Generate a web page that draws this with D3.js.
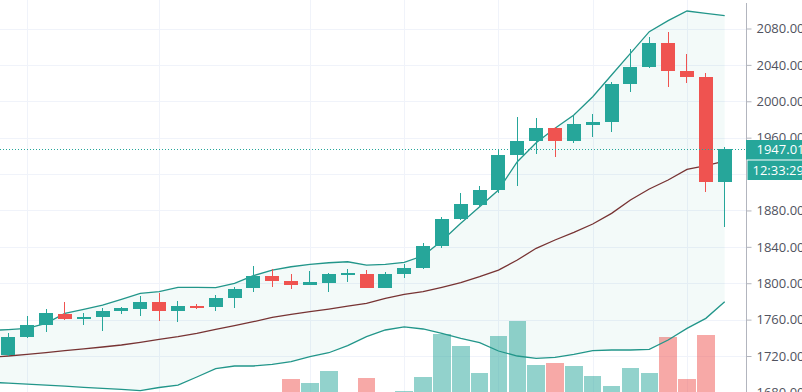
<!DOCTYPE html>
<html>
<head>
<meta charset="utf-8">
<script src="https://cdn.jsdelivr.net/npm/d3@7"></script>
<style>
html,body{margin:0;padding:0;background:#ffffff;overflow:hidden;}
svg{display:block;}
</style>
</head>
<body>
<svg id="chart" width="802" height="392"></svg>
<script>
// ---- Data (XAUUSD daily) ----
const dates = [
  "2020-06-18","2020-06-19","2020-06-22","2020-06-23","2020-06-24","2020-06-25","2020-06-26",
  "2020-06-29","2020-06-30","2020-07-01","2020-07-02","2020-07-03",
  "2020-07-06","2020-07-07","2020-07-08","2020-07-09","2020-07-10",
  "2020-07-13","2020-07-14","2020-07-15","2020-07-16","2020-07-17",
  "2020-07-20","2020-07-21","2020-07-22","2020-07-23","2020-07-24",
  "2020-07-27","2020-07-28","2020-07-29","2020-07-30","2020-07-31",
  "2020-08-03","2020-08-04","2020-08-05","2020-08-06","2020-08-07",
  "2020-08-10","2020-08-11","2020-08-12"
];
const opens = [
  1726.0,1720.7,1740.9,1754.1,1766.1,1760.3,1763.2,
  1769.4,1772.0,1779.7,1769.8,1774.9,
  1774.2,1783.4,1794.4,1808.3,1802.8,
  1798.4,1799.9,1810.4,1809.8,1795.1,
  1810.1,1816.4,1840.9,1870.9,1886.3,
  1902.1,1940.9,1956.3,1970.6,1956.3,
  1973.9,1976.9,2019.0,2038.0,2063.7,
  2033.3,2026.4,1910.9
];
const highs = [
  1732.0,1744.9,1763.9,1771.3,1779.0,1767.6,1772.4,
  1774.2,1785.9,1788.9,1780.1,1777.1,
  1787.0,1796.2,1818.9,1815.3,1810.1,
  1813.8,1811.5,1815.3,1814.5,1812.3,
  1821.1,1844.5,1873.1,1898.8,1907.2,
  1946.4,1983.0,1981.3,1971.5,1983.8,
  1985.7,2021.5,2057.1,2071.0,2076.5,
  2052.0,2030.8,1950.1
];
const lows = [
  1712.0,1720.0,1740.0,1746.7,1760.0,1754.1,1747.5,
  1766.1,1764.3,1758.8,1757.0,1772.0,
  1769.4,1772.7,1790.7,1795.5,1793.3,
  1798.0,1790.3,1801.7,1794.8,1794.8,
  1805.4,1815.8,1839.0,1869.5,1884.9,
  1898.8,1906.9,1941.7,1939.1,1954.5,
  1960.4,1965.9,2009.9,2036.2,2015.4,
  2019.8,1900.6,1862.1
];
const closes = [
  1722.0,1740.5,1754.1,1766.9,1760.3,1763.2,1769.8,
  1772.4,1779.7,1769.8,1774.9,1773.1,
  1783.4,1794.0,1808.3,1802.4,1798.4,
  1801.0,1809.8,1810.9,1795.1,1810.5,
  1816.4,1841.2,1870.9,1886.7,1902.5,
  1940.9,1956.7,1970.6,1956.3,1974.7,
  1976.9,2019.0,2038.0,2063.7,2033.0,
  2026.4,1910.9,1947.01
];
const volumes = [
  20,22,20,21,25,19,23,
  18,21,26,22,12,
  20,24,27,25,40.7,
  37.3,49.3,26,42,27,
  29.3,43.3,86,74,46.7,
  84,99,55,56.7,54,
  43.7,33.7,51.7,47.3,83.3,
  40.7,85,15
];
const bbUpper = [
  1748.0,1749.1,1750.4,1755.9,1766.9,1771.3,1776.0,
  1782.3,1788.9,1790.7,1795.5,1795.5,
  1795.1,1799.9,1808.3,1814.5,1818.1,
  1820.8,1822.5,1823.6,1820.0,1820.8,
  1823.0,1830.2,1846.7,1865.9,1884.1,
  1902.5,1933.6,1954.5,1970.3,1984.9,
  2005.0,2028.9,2052.7,2076.5,2088.6,
  2099.2,2096.7,2094.1
];
const bbBasis = [
  1718.5,1720.0,1721.8,1723.8,1726.0,1727.9,1729.9,
  1732.1,1735.0,1738.3,1741.2,1744.9,
  1749.3,1753.3,1757.7,1762.5,1765.8,
  1768.7,1771.6,1774.9,1777.9,1783.4,
  1787.8,1790.7,1795.5,1800.6,1807.2,
  1814.5,1825.5,1838.4,1847.5,1856.0,
  1865.1,1876.8,1891.5,1903.6,1913.5,
  1925.2,1929.2,1934.3
];
const bbLower = [
  1691.0,1690.3,1689.2,1688.1,1687.0,1685.6,1684.5,
  1683.4,1682.0,1685.4,1688.1,1696.9,
  1706.2,1709.0,1709.0,1710.9,1713.9,
  1719.2,1723.6,1731.5,1741.4,1748.6,
  1752.1,1749.7,1744.9,1739.4,1734.6,
  1725.5,1720.0,1717.5,1718.6,1721.8,
  1726.0,1726.6,1726.6,1727.3,1737.6,
  1750.4,1761.4,1779.7
];
const priceTicks = [1680,1720,1760,1800,1840,1880,1920,1960,2000,2040,2080];
// 1920 label is hidden behind the countdown box in the reference
const labelTicks = [1680,1720,1760,1800,1840,1880,1960,2000,2040,2080];
const gridDates = ["2020-06-22","2020-07-01","2020-07-13","2020-07-20","2020-07-27","2020-08-03","2020-08-10"];
const lastPrice = 1947.01;
const countdown = "12:33:29";

// ---- Styling ----
const UP = "#26a69a", DOWN = "#ef5350";
const W = 802, H = 392, plotRight = 746;

const svg = d3.select("#chart");
svg.append("rect").attr("width", W).attr("height", H).attr("fill", "#ffffff");

const x = d3.scalePoint().domain(dates).range([-10.55, 724.7]);
const y = d3.scaleLinear().domain([1680, 2080]).range([392.4, 28.5]);
const v = d3.scaleLinear().domain([0, 100]).range([420, 320]);

const data = dates.map((d, i) => ({
  d, o: opens[i], h: highs[i], l: lows[i], c: closes[i],
  up: bbUpper[i], mid: bbBasis[i], lo: bbLower[i], vol: volumes[i]
}));

svg.append("defs").append("clipPath").attr("id", "plotclip")
  .append("rect").attr("x", 0).attr("y", 0).attr("width", plotRight).attr("height", H);

const plot = svg.append("g").attr("clip-path", "url(#plotclip)");

// grid
const grid = plot.append("g").attr("stroke", "#f0f3fa").attr("stroke-width", 1).attr("shape-rendering", "crispEdges");
grid.selectAll("line.h").data(priceTicks).join("line").attr("class", "h")
  .attr("x1", 0).attr("x2", plotRight)
  .attr("y1", d => Math.round(y(d)) + 0.5).attr("y2", d => Math.round(y(d)) + 0.5);
grid.selectAll("line.v").data(gridDates).join("line").attr("class", "v")
  .attr("x1", d => Math.round(x(d)) + 0.5).attr("x2", d => Math.round(x(d)) + 0.5)
  .attr("y1", 0).attr("y2", H);

// volume
plot.append("g").attr("shape-rendering", "crispEdges").selectAll("rect").data(data).join("rect")
  .attr("x", d => x(d.d) - 8.75)
  .attr("width", 17.5)
  .attr("y", d => v(d.vol))
  .attr("height", d => v(0) - v(d.vol))
  .attr("fill", d => d.c >= d.o ? UP : DOWN)
  .attr("fill-opacity", 0.5);

// Bollinger fill + lines
plot.append("path").datum(data)
  .attr("d", d3.area().x(d => x(d.d)).y0(d => y(d.lo)).y1(d => y(d.up)))
  .attr("fill", "#26a69a").attr("fill-opacity", 0.055);
const line = key => d3.line().x(d => x(d.d)).y(d => y(d[key]));
plot.append("path").datum(data).attr("d", line("up"))
  .attr("fill", "none").attr("stroke", "#22968a").attr("stroke-width", 1.3);
plot.append("path").datum(data).attr("d", line("lo"))
  .attr("fill", "none").attr("stroke", "#22968a").attr("stroke-width", 1.3);
plot.append("path").datum(data).attr("d", line("mid"))
  .attr("fill", "none").attr("stroke", "#773333").attr("stroke-width", 1.3);

// candles
const cg = plot.append("g").attr("shape-rendering", "crispEdges");
const candles = cg.selectAll("g").data(data).join("g")
  .attr("fill", d => d.c >= d.o ? UP : DOWN);
candles.append("rect")
  .attr("x", d => Math.round(x(d.d) - 0.5))
  .attr("width", 1)
  .attr("y", d => y(d.h))
  .attr("height", d => y(d.l) - y(d.h));
candles.append("rect")
  .attr("x", d => Math.round(x(d.d) - 7))
  .attr("width", 14)
  .attr("y", d => Math.min(y(d.o), y(d.c)))
  .attr("height", d => Math.max(1.5, Math.abs(y(d.o) - y(d.c))));

// last price dotted line
plot.append("line")
  .attr("x1", 0).attr("x2", plotRight)
  .attr("y1", Math.round(y(lastPrice)) + 0.5).attr("y2", Math.round(y(lastPrice)) + 0.5)
  .attr("stroke", UP).attr("stroke-width", 1).attr("stroke-dasharray", "1,2");

// right price axis
svg.append("line").attr("x1", 746.5).attr("x2", 746.5).attr("y1", 3).attr("y2", H)
  .attr("stroke", "#b2b5be").attr("stroke-width", 1);
const axis = svg.append("g").attr("transform", "translate(746.5,0)")
  .call(d3.axisRight(y).tickValues(labelTicks).tickSize(5).tickPadding(5).tickFormat(d3.format(".2f")));
axis.select(".domain").remove();
axis.selectAll(".tick line").attr("stroke", "#b2b5be");
axis.selectAll(".tick text")
  .attr("fill", "#50535e")
  .style("font-family", "'Open Sans', sans-serif")
  .style("font-size", "13px");

// last price label + countdown
const ly = y(lastPrice);
svg.append("rect").attr("x", 746).attr("y", 140).attr("width", 56).attr("height", 19.5).attr("fill", UP);
svg.append("text").attr("x", 756.5).attr("y", ly).attr("dy", "0.35em")
  .attr("fill", "#ffffff").style("font-family", "'Open Sans', sans-serif").style("font-size", "13px")
  .style("font-weight", "500")
  .text(d3.format(".2f")(lastPrice));
svg.append("rect").attr("x", 747.5).attr("y", 160.5).attr("width", 55).attr("height", 19.5).attr("fill", UP);
svg.append("text").attr("x", 752.5).attr("y", 170.3).attr("dy", "0.35em")
  .attr("fill", "#ffffff").style("font-family", "'Open Sans', sans-serif").style("font-size", "13px")
  .style("font-weight", "500")
  .text(countdown);
</script>
</body>
</html>
